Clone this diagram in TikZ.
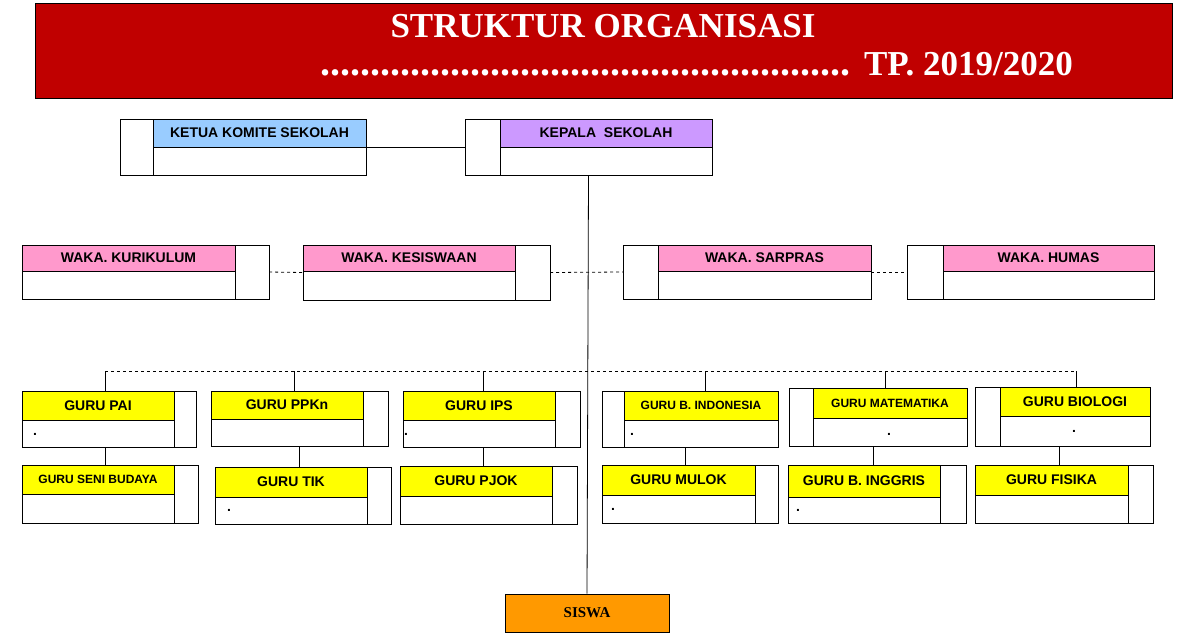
\documentclass[tikz,border=0pt]{standalone}
\usepackage{fontspec}
\setmainfont{Liberation Sans}
\newfontfamily\titlefont{Liberation Serif}
\definecolor{dred}{HTML}{C00000}
\definecolor{lblue}{HTML}{99CCFF}
\definecolor{lav}{HTML}{CC99FF}
\definecolor{pinkc}{HTML}{FF99CC}
\definecolor{yel}{HTML}{FFFF00}
\definecolor{orng}{HTML}{FF9900}
\tikzset{bx/.style={draw=black,line width=0.9pt},lbl/.style={font=\bfseries\fontsize{14}{15}\selectfont,inner sep=0pt},
conn/.style={draw=black,line width=0.8pt},dconn/.style={conn,dash pattern=on 3pt off 3pt},
dotn/.style={inner sep=0,font=\bfseries\fontsize{14}{14}\selectfont}}
% name, x1,y1,x2,y2, div, split, color, text  -- photo at right
\newcommand\rbox[9]{%
 \node[inner sep=0,minimum width={(#4-#2)*1pt},minimum height={(#5-#3)*1pt}] (#1) at ({(#2+#4)/2},{(#3+#5)/2}) {};
 \fill[#8] (#2,#3) rectangle (#6,#7);
 \draw[bx] (#2,#3) rectangle (#4,#5) (#6,#3) -- (#6,#5) (#2,#7) -- (#6,#7);
 \node[lbl] at ({(#2+#6)/2},{(#3+#7)/2}) {#9};}
\newcommand\lbox[9]{%
 \node[inner sep=0,minimum width={(#4-#2)*1pt},minimum height={(#5-#3)*1pt}] (#1) at ({(#2+#4)/2},{(#3+#5)/2}) {};
 \fill[#8] (#6,#3) rectangle (#4,#7);
 \draw[bx] (#2,#3) rectangle (#4,#5) (#6,#3) -- (#6,#5) (#6,#7) -- (#4,#7);
 \node[lbl] at ({(#6+#4)/2},{(#3+#7)/2}) {#9};}
\begin{document}
\begin{tikzpicture}[x=1pt,y=-1pt]
\useasboundingbox (0,0) rectangle (1201,643);
\fill[dred] (35,3) rectangle (1172,98);
\draw[line width=0.8pt] (35,3) rectangle (1172,98);
\node[text=white,font=\titlefont\bfseries\fontsize{35}{38}\selectfont,inner sep=0] (t1) at (603,26) {STRUKTUR ORGANISASI};
\node[text=white,font=\titlefont\bfseries\fontsize{35}{38}\selectfont,inner sep=0,anchor=east] (t2) at (1073,64) {\fontsize{40}{40}\selectfont ..................................................... \fontsize{35}{38}\selectfont TP. 2019/2020};
\lbox{komite}{120}{119}{366}{175}{153}{147}{lblue}{KETUA KOMITE SEKOLAH}
\lbox{kepala}{465}{119}{712}{175}{500}{147}{lav}{KEPALA\ \ SEKOLAH}
\rbox{kur}{22}{245}{269}{299}{235}{271}{pinkc}{WAKA. KURIKULUM}
\rbox{kes}{303}{245}{550}{300}{515}{271}{pinkc}{WAKA. KESISWAAN}
\lbox{sar}{623}{245}{871}{299}{658}{271}{pinkc}{WAKA. SARPRAS}
\lbox{hum}{907}{245}{1154}{299}{943}{271}{pinkc}{WAKA. HUMAS}
\rbox{pai}{22}{391}{196}{447}{174}{420}{yel}{GURU PAI}
\rbox{ppkn}{211}{391}{388}{446}{363}{419}{yel}{GURU PPKn}
\rbox{ips}{403}{391}{580}{447}{555}{420}{yel}{GURU IPS}
\lbox{bind}{602}{391}{778}{447}{624}{420}{yel}{\fontsize{12}{13}\selectfont GURU B. INDONESIA}
\lbox{mat}{789}{388}{967}{446}{813}{418}{yel}{\fontsize{12}{13}\selectfont GURU MATEMATIKA}
\lbox{bio}{975}{387}{1150}{446}{1000}{416}{yel}{GURU BIOLOGI}
\rbox{seni}{22}{465}{198}{523}{174}{494}{yel}{\fontsize{12}{13}\selectfont GURU SENI BUDAYA}
\rbox{tik}{215}{467}{391}{524}{367}{497}{yel}{GURU TIK}
\rbox{pjok}{400}{466}{577}{524}{552}{496}{yel}{GURU PJOK}
\rbox{mulok}{602}{465}{778}{523}{755}{495}{yel}{GURU MULOK}
\rbox{bing}{788}{465}{966}{523}{940}{497}{yel}{GURU B. INGGRIS}
\rbox{fis}{975}{465}{1153}{523}{1128}{495}{yel}{GURU FISIKA}
\node[draw=black,line width=0.9pt,fill=orng,minimum width=164pt,minimum height=38pt,inner sep=0,font=\titlefont\bfseries\fontsize{15}{16}\selectfont] (siswa) at (587,613) {SISWA};
\foreach \p in {(35,434),(406,434),(632,434),(889,434),(1074,431),(229,510),(613,509),(798,510)} \node[dotn] at \p {.};
% connectors
\draw[conn] (komite.east) -- (kepala.west);
\draw[conn] (kepala.south) -- (siswa.north);
\draw[dconn] (kur.east) -- (kes.west);
\draw[dconn] (kes.east) -- (sar.west);
\draw[dconn] (sar.east) -- (hum.west);
\coordinate (hl) at (105,371);
\coordinate (hr) at (1076,371);
\draw[dconn] (hl) -- (hr);
\draw[conn] (hl) -- (hl |- pai.north);
\draw[conn] (hr) -- (hr |- bio.north);
\foreach \n/\x in {ppkn/294,ips/483,bind/705,mat/885} \draw[conn] (\x,371) -- (\x,0 |- \n.north);
\foreach \a/\b/\x in {pai/seni/105,ppkn/tik/299,ips/pjok/483,bind/mulok/685,mat/bing/873,bio/fis/1059}
  \draw[conn] (\x,0 |- \a.south) -- (\x,0 |- \b.north);
\end{tikzpicture}
\end{document}
